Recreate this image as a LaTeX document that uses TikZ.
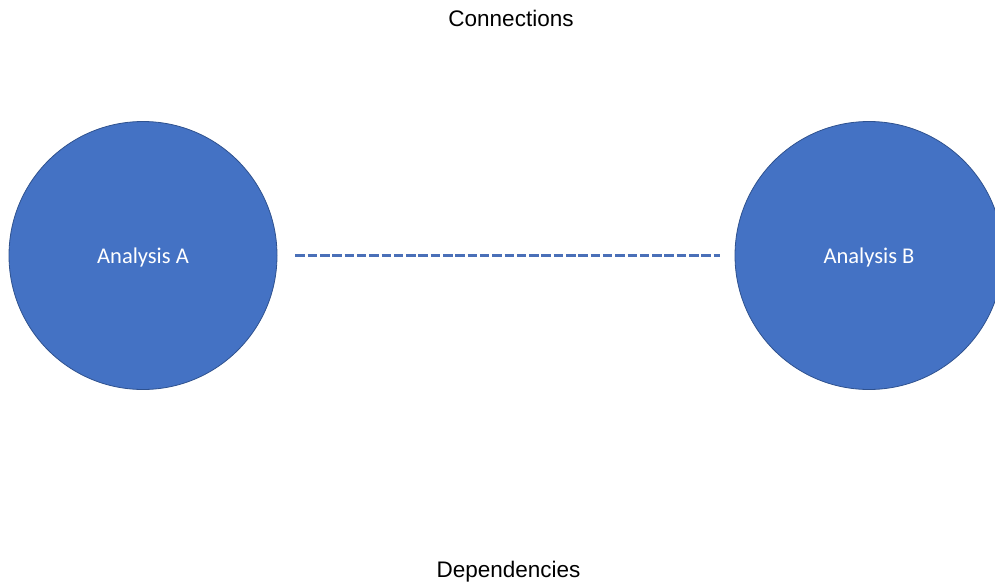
\documentclass[tikz,border=0pt]{standalone}
\usepackage{fontspec}
\setmainfont{Liberation Sans}
\newfontfamily\calibrifont{Carlito}
\usepackage{tikz}
\definecolor{analysisBlue}{HTML}{4472C4}
\definecolor{analysisEdge}{HTML}{2F528F}
\definecolor{linkBlue}{HTML}{4A70B8}
\begin{document}
\begin{tikzpicture}[x=1pt,y=-1pt]
    \tikzstyle{every node} = [inner sep=0pt]
    \tikzstyle{analysis} = [draw=analysisEdge, line width=0.8pt, circle, fill=analysisBlue, minimum size=268pt, text depth=0pt, text=white, font=\calibrifont\fontsize{22.5}{27}\selectfont]
    \tikzstyle{heading} = [anchor=base, font=\fontsize{22.5}{27}\selectfont]
    \tikzstyle{link} = [draw=linkBlue, line width=2.8pt, dash pattern=on 9.5pt off 2.8pt]
    \useasboundingbox (0,0) rectangle (995,586);
    % place nodes
    \node[heading](connections) at (511,27){Connections};
    \node[heading](dependencies) at (508.5,577){Dependencies};
    \node[analysis](analysisA) at (143,255.5){Analysis A};
    \node[analysis](analysisB) at (869,255.5){Analysis B};

    % Connections
    \draw[link, shorten <=18pt, shorten >=15pt]
    (analysisA.east)--(analysisB.west);

\end{tikzpicture}
\end{document}
